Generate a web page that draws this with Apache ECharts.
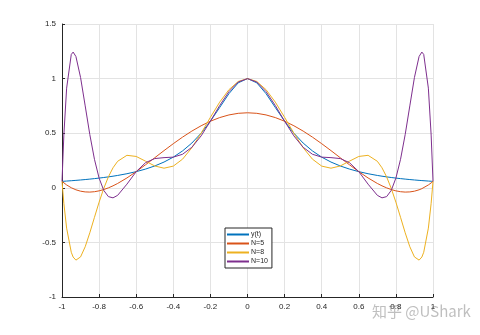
<!DOCTYPE html>
<html>
<head>
<meta charset="utf-8">
<script src="https://cdn.jsdelivr.net/npm/echarts@6/dist/echarts.min.js"></script>
<style>html,body{margin:0;padding:0;background:#fff}#c{width:480px;height:335px}</style>
</head>
<body>
<div id="c"></div>
<script>
var xs = [-1, -0.99, -0.975, -0.95, -0.94, -0.925, -0.9, -0.875, -0.85, -0.825, -0.8, -0.775, -0.75, -0.725, -0.7, -0.65, -0.6, -0.55, -0.5, -0.45, -0.4, -0.35, -0.3, -0.25, -0.2, -0.15, -0.1, -0.05,
  0,
  0.05, 0.1, 0.15, 0.2, 0.25, 0.3, 0.35, 0.4, 0.45, 0.5, 0.55, 0.6, 0.65, 0.7, 0.725, 0.75, 0.775, 0.8, 0.825, 0.85, 0.875, 0.9, 0.925, 0.94, 0.95, 0.975, 0.99, 1];
var yT = [0.0588, 0.0599, 0.0617, 0.0648, 0.0661, 0.0681, 0.0716, 0.0755, 0.0796, 0.0841, 0.0890, 0.0943, 0.1, 0.1063, 0.1131, 0.1289, 0.1479, 0.1712, 0.2, 0.2358, 0.2809, 0.3378, 0.4098, 0.5, 0.6098, 0.7353, 0.8621, 0.9615,
  1,
  0.9615, 0.8621, 0.7353, 0.6098, 0.5, 0.4098, 0.3378, 0.2809, 0.2358, 0.2, 0.1712, 0.1479, 0.1289, 0.1131, 0.1063, 0.1, 0.0943, 0.0890, 0.0841, 0.0796, 0.0755, 0.0716, 0.0681, 0.0661, 0.0648, 0.0617, 0.0599, 0.0588];
var yN5 = [0.0588, 0.0448, 0.0261, 0.0006, -0.0078, -0.0183, -0.0309, -0.0377, -0.0392, -0.0358, -0.0280, -0.0161, -0.0006, 0.0182, 0.0398, 0.0902, 0.1479, 0.2104, 0.2753, 0.3405, 0.4040, 0.4641, 0.5193, 0.5682, 0.6098, 0.6430, 0.6673, 0.6821,
  0.6870,
  0.6821, 0.6673, 0.6430, 0.6098, 0.5682, 0.5193, 0.4641, 0.4040, 0.3405, 0.2753, 0.2104, 0.1479, 0.0902, 0.0398, 0.0182, -0.0006, -0.0161, -0.0280, -0.0358, -0.0392, -0.0377, -0.0309, -0.0183, -0.0078, 0.0006, 0.0261, 0.0448, 0.0588];
var yN8 = [0.0588, -0.1418, -0.3696, -0.5903, -0.6340, -0.6622, -0.6329, -0.5397, -0.4117, -0.2705, -0.1317, -0.0061, 0.1, 0.1832, 0.2428, 0.2975, 0.2872, 0.2442, 0.2, 0.1796, 0.1987, 0.2624, 0.3668, 0.5, 0.6454, 0.7843, 0.8987, 0.9738,
  1,
  0.9738, 0.8987, 0.7843, 0.6454, 0.5, 0.3668, 0.2624, 0.1987, 0.1796, 0.2, 0.2442, 0.2872, 0.2975, 0.2428, 0.1832, 0.1, -0.0061, -0.1317, -0.2705, -0.4117, -0.5397, -0.6329, -0.6622, -0.6340, -0.5903, -0.3696, -0.1418, 0.0588];
var yN10 = [0.0588, 0.4829, 0.9125, 1.2210, 1.2429, 1.2024, 1.0107, 0.7501, 0.4873, 0.2608, 0.0890, -0.0235, -0.0807, -0.0920, -0.0690, 0.0334, 0.1479, 0.2296, 0.2676, 0.2762, 0.2809, 0.3071, 0.3710, 0.4754, 0.6098, 0.7533, 0.8809, 0.9687,
  1,
  0.9687, 0.8809, 0.7533, 0.6098, 0.4754, 0.3710, 0.3071, 0.2809, 0.2762, 0.2676, 0.2296, 0.1479, 0.0334, -0.0690, -0.0920, -0.0807, -0.0235, 0.0890, 0.2608, 0.4873, 0.7501, 1.0107, 1.2024, 1.2429, 1.2210, 0.9125, 0.4829, 0.0588];
var seriesNames = ['y(t)', 'N=5', 'N=8', 'N=10'];
var colors = ['#0072BD', '#D95319', '#EDB120', '#7E2F8E'];
var ys = [yT, yN5, yN8, yN10];

function pairs(y) { return xs.map(function (x, i) { return [x, y[i]]; }); }

var chart = echarts.init(document.getElementById('c'), null, {renderer: 'canvas'});
chart.setOption({
  animation: false,
  backgroundColor: '#fff',
  textStyle: {fontFamily: 'Liberation Sans, Arial, sans-serif'},
  grid: {left: 62, right: 47, top: 24, bottom: 38, containLabel: false},
  xAxis: {
    type: 'value', min: -1, max: 1, interval: 0.2,
    axisLine: {onZero: false, lineStyle: {color: '#262626', width: 1}},
    axisTick: {inside: true, length: 3, lineStyle: {color: '#262626'}},
    axisLabel: {color: '#262626', fontSize: 8, margin: 6},
    splitLine: {show: true, lineStyle: {color: '#e3e3e3', width: 1}}
  },
  yAxis: {
    type: 'value', min: -1, max: 1.5, interval: 0.5,
    axisLine: {show: true, onZero: false, lineStyle: {color: '#262626', width: 1}},
    axisTick: {show: true, inside: true, length: 3, lineStyle: {color: '#262626'}},
    axisLabel: {color: '#262626', fontSize: 8, margin: 6},
    splitLine: {show: true, lineStyle: {color: '#e3e3e3', width: 1}}
  },
  legend: {
    orient: 'vertical', left: 225, top: 228,
    itemWidth: 22, itemHeight: 2, itemGap: 2,
    icon: 'rect',
    padding: [3, 4, 3, 2],
    backgroundColor: '#fff', borderColor: '#262626', borderWidth: 1, borderRadius: 0,
    textStyle: {fontSize: 7, color: '#262626', padding: [0, 0, 0, -3]},
    data: seriesNames
  },
  graphic: [{
    type: 'text', left: 372, top: 304,
    style: {text: '知乎 @UShark', fontSize: 15, fill: 'rgba(170,170,170,0.75)', fontFamily: 'Noto Sans CJK SC, sans-serif'}
  }],
  series: ys.map(function (y, k) {
    return {
      name: seriesNames[k], type: 'line', data: pairs(y),
      showSymbol: false, symbol: 'none',
      lineStyle: {color: colors[k], width: 1},
      itemStyle: {color: colors[k]}
    };
  })
});
</script>
</body>
</html>
